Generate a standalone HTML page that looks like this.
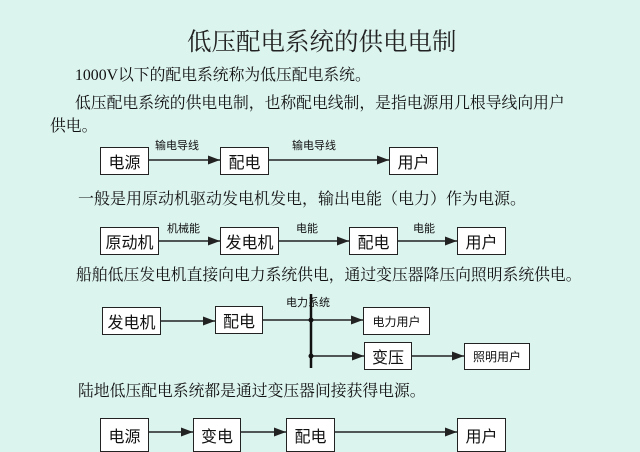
<!DOCTYPE html>
<html><head><meta charset="utf-8"><style>
html,body{margin:0;padding:0}
body{width:640px;height:446px;overflow:hidden;background:#dcf4ee;position:relative;font-family:"Liberation Serif","Noto Serif CJK SC",serif;color:#111}
.t{position:absolute;white-space:nowrap;line-height:1}
.b{position:absolute;border:1.5px solid #222;background:#fff;box-sizing:border-box;display:flex;align-items:center;justify-content:center;font-size:16px;font-family:"Liberation Sans","Noto Sans CJK SC",sans-serif}
.s{font-size:11px;font-family:"Liberation Sans","Noto Sans CJK SC",sans-serif}
svg{position:absolute;left:0;top:0}
</style></head><body>
<div class="t" style="left:187px;top:31px;font-size:24.5px;color:#222">低压配电系统的供电电制</div>
<div class="t" style="left:75px;top:68px;font-size:15.8px">1000V以下的配电系统称为低压配电系统。</div>
<div class="t" style="left:75px;top:96px;font-size:15.8px">低压配电系统的供电电制，也称配电线制，是指电源用几根导线向用户</div>
<div class="t" style="left:50px;top:119px;font-size:15.8px">供电。</div>
<div class="t" style="left:78px;top:192px;font-size:16px">一般是用原动机驱动发电机发电，输出电能（电力）作为电源。</div>
<div class="t" style="left:76px;top:268px;font-size:15.8px">船舶低压发电机直接向电力系统供电，通过变压器降压向照明系统供电。</div>
<div class="t" style="left:78px;top:384px;font-size:15.8px">陆地低压配电系统都是通过变压器间接获得电源。</div>

<svg width="640" height="446">
<defs><marker id="a" markerWidth="8" markerHeight="6" refX="8" refY="3" orient="auto"><path d="M0,0L8,3L0,6z" fill="#222"/></marker></defs>
<g stroke="#222" stroke-width="1.5" fill="none" marker-end="url(#a)">
<line x1="149" y1="160" x2="220" y2="160"/>
<line x1="268" y1="160" x2="389" y2="160"/>
<line x1="159" y1="241" x2="220" y2="241"/>
<line x1="279" y1="241" x2="349" y2="241"/>
<line x1="398" y1="241" x2="457" y2="241"/>
<line x1="161" y1="321" x2="215" y2="321"/>
<line x1="311" y1="320" x2="363" y2="320"/>
<line x1="311" y1="356" x2="364" y2="356"/>
<line x1="412" y1="356" x2="464" y2="356"/>
<line x1="149" y1="432" x2="193" y2="432"/>
<line x1="241" y1="432" x2="286" y2="432"/>
<line x1="335" y1="432" x2="457" y2="432"/>
</g>
<line x1="263" y1="320" x2="311" y2="320" stroke="#222" stroke-width="1.5"/>
<line x1="311" y1="294" x2="311" y2="368" stroke="#111" stroke-width="2.5"/>
<circle cx="311" cy="320" r="2.5" fill="#111"/><circle cx="311" cy="356" r="2.5" fill="#111"/>
</svg>

<div class="t s" style="left:155px;top:141px">输电导线</div>
<div class="t s" style="left:292px;top:141px">输电导线</div>
<div class="t s" style="left:167px;top:224px">机械能</div>
<div class="t s" style="left:296px;top:224px">电能</div>
<div class="t s" style="left:413px;top:224px">电能</div>
<div class="t s" style="left:286px;top:298px">电力系统</div>

<div class="b" style="left:100px;top:147px;width:49px;height:28px">电源</div>
<div class="b" style="left:220px;top:147px;width:49px;height:28px">配电</div>
<div class="b" style="left:389px;top:147px;width:49px;height:28px">用户</div>

<div class="b" style="left:100px;top:227px;width:59px;height:28px">原动机</div>
<div class="b" style="left:220px;top:227px;width:59px;height:28px">发电机</div>
<div class="b" style="left:349px;top:227px;width:49px;height:28px">配电</div>
<div class="b" style="left:457px;top:227px;width:49px;height:28px">用户</div>

<div class="b" style="left:102px;top:307px;width:59px;height:28px">发电机</div>
<div class="b" style="left:215px;top:306px;width:48px;height:28px">配电</div>
<div class="b" style="left:363px;top:307px;width:67px;height:28px;font-size:12px">电力用户</div>
<div class="b" style="left:364px;top:342px;width:48px;height:28px">变压</div>
<div class="b" style="left:464px;top:343px;width:66px;height:27px;font-size:12px">照明用户</div>

<div class="b" style="left:100px;top:418px;width:49px;height:34px">电源</div>
<div class="b" style="left:193px;top:418px;width:48px;height:34px">变电</div>
<div class="b" style="left:286px;top:418px;width:49px;height:34px">配电</div>
<div class="b" style="left:457px;top:418px;width:49px;height:34px">用户</div>
</body></html>
